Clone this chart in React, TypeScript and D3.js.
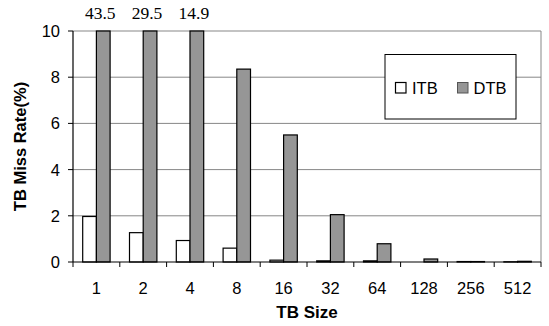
import * as d3 from 'd3';

const categories = ['1', '2', '4', '8', '16', '32', '64', '128', '256', '512'];
const itb = [1.97, 1.27, 0.93, 0.6, 0.08, 0.05, 0.05, 0, 0.02, 0.01];
const dtb = [43.5, 29.5, 14.9, 8.35, 5.5, 2.05, 0.79, 0.13, 0.02, 0.03];
const seriesNames = ['ITB', 'DTB'];
const yTicks = [0, 2, 4, 6, 8, 10];

const width = 549;
const height = 326;
const margin = { top: 31, right: 8, bottom: 64, left: 73 };

export default function App() {
  const x = d3.scaleBand<string>()
    .domain(categories)
    .range([margin.left, width - margin.right])
    .paddingInner(0)
    .paddingOuter(0);

  const xs = d3.scaleBand<string>()
    .domain(seriesNames)
    .range([0, x.bandwidth()])
    .paddingInner(0)
    .paddingOuter(0.708);

  const y = d3.scaleLinear()
    .domain([0, 10])
    .range([height - margin.bottom, margin.top]);

  const fills: Record<string, string> = { ITB: '#ffffff', DTB: '#969696' };
  const values: Record<string, number[]> = { ITB: itb, DTB: dtb };

  const x0 = margin.left;
  const x1 = width - margin.right;
  const yb = y(0);
  const yt = y(10);
  const font = 'Arial, Helvetica, sans-serif';

  return (
    <svg width={width} height={height} style={{ position: 'absolute', left: 0, top: 0 }}>
      <rect x={0} y={0} width={width} height={height} fill="#fff" />

      {/* grid + frame */}
      {yTicks.slice(1).map(t => (
        <line key={t} x1={x0} x2={x1} y1={y(t)} y2={y(t)} stroke="#878787" strokeWidth={1} />
      ))}
      <line x1={x1} x2={x1} y1={yt} y2={yb} stroke="#878787" strokeWidth={1} />

      {/* bars */}
      {seriesNames.map(s => categories.map((c, i) => {
        const v = Math.min(values[s][i], 10);
        if (values[s][i] <= 0) return null;
        return (
          <rect
            key={s + c}
            x={(x(c) ?? 0) + (xs(s) ?? 0)}
            y={y(v)}
            width={xs.bandwidth()}
            height={Math.max(0, yb - y(v))}
            fill={fills[s]}
            stroke="#000"
            strokeWidth={1.2}
          />
        );
      }))}

      {/* clipped values */}
      {dtb.map((v, i) => v > 10 ? (
        <text key={i} x={(x(categories[i]) ?? 0) + (xs('DTB') ?? 0) + xs.bandwidth() / 2 - 3}
          y={19} textAnchor="middle" fontFamily="'Times New Roman', Times, serif" fontSize={17.5}>
          {v.toFixed(1)}
        </text>
      ) : null)}

      {/* axes */}
      <line x1={x0} x2={x0} y1={yt} y2={yb} stroke="#000" strokeWidth={1.2} />
      <line x1={x0} x2={x1} y1={yb} y2={yb} stroke="#000" strokeWidth={1.2} />
      {yTicks.map(t => (
        <g key={t}>
          <line x1={x0 - 5} x2={x0} y1={y(t)} y2={y(t)} stroke="#000" strokeWidth={1} />
          <text x={x0 - 13} y={y(t)} dy="0.36em" textAnchor="end" fontFamily={font} fontSize={16.5}>{t}</text>
        </g>
      ))}
      {categories.map(c => (
        <g key={c}>
          <line x1={x(c)} x2={x(c)} y1={yb} y2={yb + 5} stroke="#000" strokeWidth={1} />
          <text x={(x(c) ?? 0) + x.bandwidth() / 2} y={294} textAnchor="middle" fontFamily={font} fontSize={16.5}>{c}</text>
        </g>
      ))}
      <line x1={x1} x2={x1} y1={yb} y2={yb + 5} stroke="#000" strokeWidth={1} />

      <text x={(x0 + x1) / 2} y={318} textAnchor="middle" fontFamily={font} fontSize={17} fontWeight="bold">TB Size</text>
      <text transform={`translate(26,${(yt + yb) / 2}) rotate(-90)`} textAnchor="middle"
        fontFamily={font} fontSize={16.5} fontWeight="bold">TB Miss Rate(%)</text>

      {/* legend */}
      <rect x={385} y={54.5} width={131} height={64.5} fill="#fff" stroke="#000" strokeWidth={1} />
      <rect x={395.5} y={82.5} width={10.5} height={10.5} fill="#fff" stroke="#000" strokeWidth={1.2} />
      <text x={412} y={94} fontFamily={font} fontSize={16.5}>ITB</text>
      <rect x={457.5} y={82.5} width={10.5} height={10.5} fill="#969696" stroke="#555" strokeWidth={1} />
      <text x={473.5} y={94} fontFamily={font} fontSize={16.5}>DTB</text>
    </svg>
  );
}
